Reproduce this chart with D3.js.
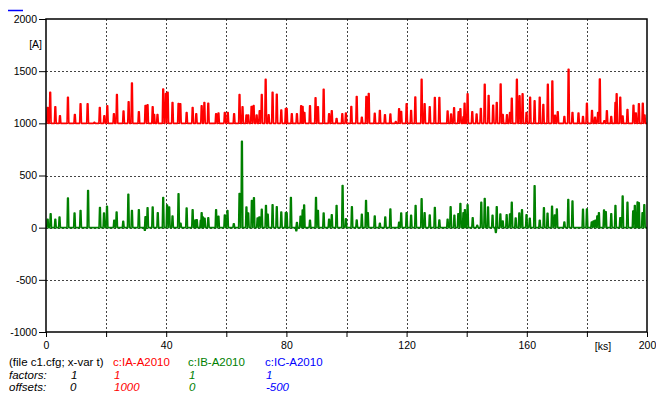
<!DOCTYPE html>
<html><head><meta charset="utf-8">
<script src="https://cdn.jsdelivr.net/npm/d3@7"></script>
<style>body{margin:0;background:#fff}svg{display:block}</style>
</head><body><div id="chart"></div>
<script>
// ---- data ----
const xTicks = [0, 20, 40, 60, 80, 100, 120, 140, 160, 180, 200];
const xLabels = [0, 40, 80, 120, 160, 200];
const yTicks = [-1000, -500, 0, 500, 1000, 1500, 2000];
const seriesNames = ["c:IA-A2010", "c:IB-A2010", "c:IC-A2010"];
const factors = ["1", "1", "1"];
const offsets = ["1000", "0", "-500"];
const baseA = 1000, baseB = 0;
// IA spikes: time [ks], peak [A]
const iaT = [0.55,1.4,3.1,4.65,7.3,9.6,11.5,13.85,16.1,17.9,19.4,20.4,22.6,23.6,25.8,27.5,28.6,30.9,33.1,33.8,35.5,36.0,37.1,39.0,39.9,
  40.5,42.1,44.1,44.7,46.8,48.8,50.0,51.8,52.7,54.0,56.6,57.4,59.5,60.5,62.6,64.4,65.4,66.7,67.3,68.4,69.1,70.1,71.1,71.8,73.1,74.1,75.4,76.8,78.3,79.8,
  80.1,81.8,83.5,84.9,85.4,86.0,87.85,89.7,90.5,92.4,94.2,95.1,96.7,98.6,99.8,101.6,103.4,105.1,106.6,107.4,109.4,111.1,112.8,114.6,116.4,117.5,118.2,120.0,
  121.5,122.9,125.0,126.0,127.7,129.4,130.9,133.65,134.8,135.8,137.3,137.9,138.9,139.3,140.3,141.85,143.3,144.7,146.0,147.3,148.8,150.0,151.3,152.0,153.4,154.4,155.0,156.7,157.6,158.6,159.9,
  161.1,162.6,164.3,165.5,167.0,168.5,169.4,170.3,172.5,173.9,175.2,177.2,178.7,180.0,181.7,182.7,183.7,184.3,185.8,186.65,188.1,189.5,189.9,191.1,191.9,193.5,195.5,196.3,197.3,198.6,199.2];
const iaV = [1152,1297,1158,1073,1250,1085,1187,1187,1010,1152,1073,1168,1092,1275,1117,1206,1386,1111,1171,1177,1158,1085,1085,1329,1285,
  1297,1199,1190,1187,1104,1152,1092,1168,1199,1193,1092,1098,1104,1104,1092,1275,1158,1079,1079,1161,1171,1079,1120,1275,1421,1082,1297,1279,1127,1142,
  1142,1092,1092,1168,1161,1104,1168,1244,1158,1326,1092,1120,1047,1092,1098,1161,1256,1057,1256,1285,1095,1123,1082,1089,1016,1139,1114,1187,
  1123,1253,1421,1187,1158,1247,1247,1117,1089,1149,1111,1139,1063,1193,1282,1111,1089,1142,1373,1266,1174,1199,1377,1085,1082,1104,1241,1421,1263,1282,1104,
  1250,1215,1250,1180,1373,1405,1076,1111,1066,1519,1104,1098,1066,1193,1123,1057,1104,1424,1025,1120,1066,1199,1282,1250,1070,1133,1174,1098,1187,1193,1079];
// IB spikes
const ibT = [0.55,1.55,3.1,4.5,7.3,9.5,11.5,14.0,17.95,19.3,20.3,22.7,23.5,25.7,27.4,28.6,30.9,32.9,33.1,33.8,35.5,37.2,39.0,
  40.3,41.0,42.1,44.1,44.8,46.8,48.8,49.7,50.2,51.5,51.8,52.2,52.8,54.0,56.6,57.4,59.5,60.4,62.5,64.4,65.2,66.7,67.3,68.5,69.2,70.4,71.0,71.8,73.2,73.8,75.4,76.8,78.3,79.8,
  80.1,81.5,83.3,83.5,84.7,85.4,85.9,87.85,89.85,90.5,92.4,94.2,95.1,96.7,98.7,99.8,101.8,103.4,105.1,106.5,107.1,109.4,111.1,112.9,114.6,117.5,118.2,120.0,
  121.5,123.0,125.0,126.0,127.7,129.4,130.9,133.65,134.65,135.9,137.2,137.9,138.9,139.4,140.3,142.0,143.5,144.85,146.0,147.1,148.6,149.7,150.0,151.2,152.0,153.3,154.4,155.0,156.3,157.5,158.4,159.9,
  161.0,162.6,164.3,165.7,166.9,168.4,169.3,170.0,172.5,173.8,175.2,178.7,180.0,181.6,182.2,182.8,183.45,184.0,185.7,186.3,188.1,189.5,191.1,191.9,193.5,195.4,195.95,196.85,197.3,198.5,199.1];
const ibV = [80,134,80,102,283,140,165,356,194,140,204,70,150,60,321,165,172,-25,105,191,197,143,289,
  216,197,111,324,41,188,172,73,76,70,143,102,89,95,172,108,121,165,38,328,827,197,140,261,286,92,102,175,213,127,219,200,150,146,
  143,289,-30,48,108,169,216,70,289,165,140,80,124,213,404,86,200,73,127,261,143,111,41,102,178,51,140,143,
  118,213,277,143,121,194,73,80,200,118,134,232,143,172,219,95,22,242,280,197,118,-45,200,130,64,124,130,242,92,140,172,124,
  89,401,70,191,137,204,121,178,54,270,254,175,178,54,64,70,111,143,169,153,134,213,95,302,242,159,213,245,239,143,219];

// ---- layout ----
const W = 656, H = 394;
const x = d3.scaleLinear().domain([0, 200]).range([46, 647]);
const y = d3.scaleLinear().domain([-1000, 2000]).range([332, 19]);
const FONT = "'Liberation Sans', Arial, sans-serif";

const svg = d3.select("#chart").append("svg").attr("width", W).attr("height", H)
  .style("font-family", FONT);

// grid
const grid = svg.append("g").attr("stroke", "#444").attr("stroke-width", 1).attr("stroke-dasharray", "2,2");
xTicks.filter(d => d > 0 && d < 200).forEach(d => {
  grid.append("line").attr("x1", Math.round(x(d)) + 0.5).attr("x2", Math.round(x(d)) + 0.5)
    .attr("y1", y(2000)).attr("y2", y(-1000));
});
yTicks.filter(d => d > -1000 && d < 2000).forEach(d => {
  grid.append("line").attr("y1", Math.round(y(d)) + 0.5).attr("y2", Math.round(y(d)) + 0.5)
    .attr("x1", x(0)).attr("x2", x(200));
});

// clip
svg.append("clipPath").attr("id", "clip").append("rect")
  .attr("x", x(0)).attr("y", y(2000)).attr("width", x(200) - x(0)).attr("height", y(-1000) - y(2000));

function spikePath(ts, vs, base) {
  const pts = [[0, base]];
  const order = d3.range(ts.length).sort((a, b) => ts[a] - ts[b]);
  order.forEach(i => {
    const t = ts[i], v = vs[i];
    pts.push([t - 0.3, base], [t - 0.12, v], [t + 0.12, v], [t + 0.3, base]);
  });
  pts.push([200, base]);
  return d3.line().x(d => x(d[0])).y(d => y(d[1]))(pts);
}

const plot = svg.append("g").attr("clip-path", "url(#clip)");
plot.append("path").attr("d", spikePath(iaT, iaV, baseA)).attr("fill", "none")
  .attr("stroke", "#ff0000").attr("stroke-width", 1.6).attr("stroke-linejoin", "round");
plot.append("path").attr("d", spikePath(ibT, ibV, baseB)).attr("fill", "none")
  .attr("stroke", "#008000").attr("stroke-width", 1.6).attr("stroke-linejoin", "round");

// axes
const yAxis = d3.axisLeft(y).tickValues(yTicks).tickSize(7).tickPadding(2).tickFormat(d => d);
const gy = svg.append("g").attr("transform", `translate(${x(0)},0)`).call(yAxis);
gy.select(".domain").remove();
gy.selectAll("line").attr("stroke", "#000").attr("stroke-width", 1);
gy.selectAll("text").style("font-family", FONT).style("font-size", "10.5px").attr("fill", "#000");

const xAxis = d3.axisBottom(x).tickValues(xTicks).tickSize(5).tickPadding(5)
  .tickFormat(d => xLabels.includes(d) ? d : "");
const gx = svg.append("g").attr("transform", `translate(0,${y(-1000)})`).call(xAxis);
gx.select(".domain").remove();
gx.selectAll("line").attr("stroke", "#000").attr("stroke-width", 1);
gx.selectAll("text").style("font-family", FONT).style("font-size", "10.5px").attr("fill", "#000");

// frame
svg.append("rect").attr("x", x(0)).attr("y", y(2000)).attr("width", x(200) - x(0)).attr("height", y(-1000) - y(2000))
  .attr("fill", "none").attr("stroke", "#000").attr("stroke-width", 1.5);

// unit labels
svg.append("text").attr("x", 42).attr("y", 48).attr("text-anchor", "end").style("font-size", "10.5px").text("[A]");
svg.append("text").attr("x", 603).attr("y", 350).attr("text-anchor", "middle").style("font-size", "10.5px").text("[ks]");

// small blue mark top-left
svg.append("line").attr("x1", 8).attr("x2", 23).attr("y1", 10.5).attr("y2", 10.5)
  .attr("stroke", "#0000ff").attr("stroke-width", 1.5);

// legend
const colors = ["#ff0000", "#008000", "#0000ff"];
const colX = [113, 188, 265];
const fs = "11.5px";
svg.append("text").attr("x", 9).attr("y", 366).style("font-size", fs).text("(file c1.cfg; x-var t)");
svg.append("text").attr("x", 9).attr("y", 379).style("font-size", fs).style("font-style", "italic").text("factors:");
svg.append("text").attr("x", 9).attr("y", 391).style("font-size", fs).style("font-style", "italic").text("offsets:");
svg.append("text").attr("x", 71).attr("y", 379).style("font-size", fs).style("font-style", "italic").text("1");
svg.append("text").attr("x", 70).attr("y", 391).style("font-size", fs).style("font-style", "italic").text("0");
seriesNames.forEach((n, i) => {
  svg.append("text").attr("x", colX[i]).attr("y", 366).style("font-size", fs).attr("fill", colors[i]).text(n);
  svg.append("text").attr("x", colX[i] + 1).attr("y", 379).style("font-size", fs).style("font-style", "italic").attr("fill", colors[i]).text(factors[i]);
  svg.append("text").attr("x", colX[i] + 1).attr("y", 391).style("font-size", fs).style("font-style", "italic").attr("fill", colors[i]).text(offsets[i]);
});
</script></body></html>
